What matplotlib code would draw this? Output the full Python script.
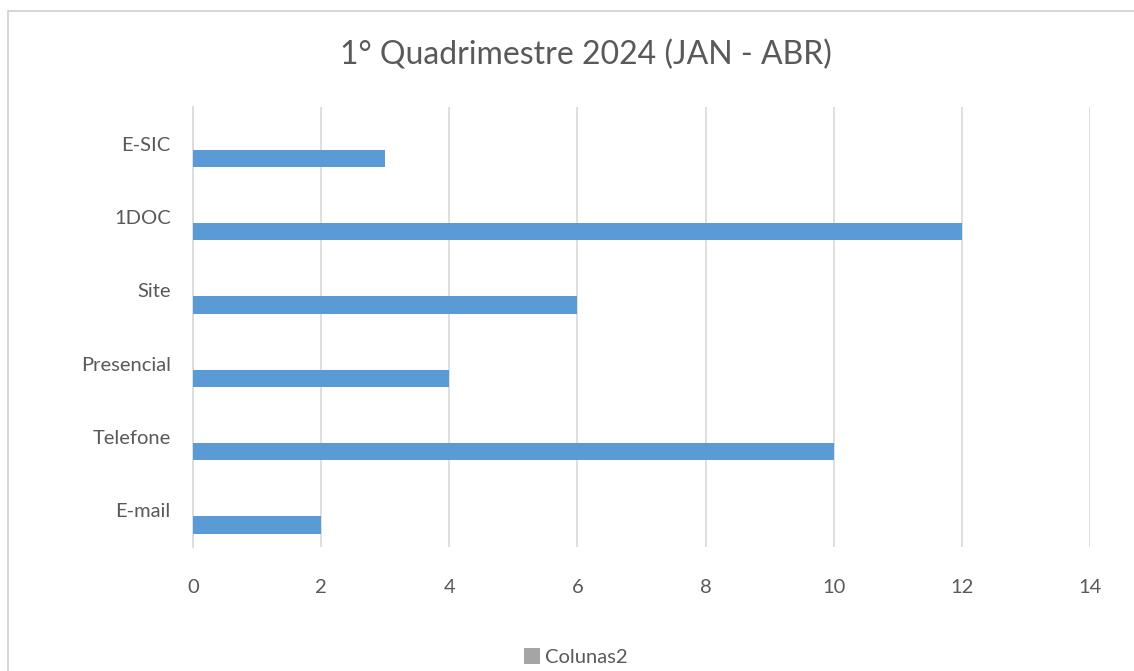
import matplotlib
matplotlib.use("Agg")
import matplotlib.pyplot as plt
from matplotlib.patches import Rectangle, Patch
import numpy as np

categories = ["E-mail", "Telefone", "Presencial", "Site", "1DOC", "E-SIC"]
values = [2, 10, 4, 6, 12, 3]
colunas2 = [0, 0, 0, 0, 0, 0]
xticks = [0, 2, 4, 6, 8, 10, 12, 14]

plt.rcParams['font.family'] = ['Lato', 'DejaVu Sans']
text_color = '#595959'
grid_color = '#d9d9d9'
blue = '#5b9bd5'
gray = '#a5a5a5'

fig = plt.figure(figsize=(11.34, 6.71), dpi=100)
W, H = 1134, 671
# chart border
fig.patches.append(Rectangle((8 / W, -0.1), 1.2, 1 - 11 / H + 0.1, transform=fig.transFigure,
                             fill=False, edgecolor='#d0d0d0', linewidth=1.2))

ax = fig.add_axes([193 / W, 1 - 547 / H, (1090 - 193) / W, (547 - 107) / H])
y = np.arange(len(categories))
ax.barh(y - 0.2, values, height=0.24, color=blue, zorder=3)
ax.barh(y + 0.04, colunas2, height=0.24, color=gray, zorder=3)

ax.set_xlim(0, 14)
ax.set_ylim(-0.5, len(categories) - 0.5)
ax.set_xticks(xticks)
ax.set_xticklabels([str(t) for t in xticks])
ax.set_yticks(y)
ax.set_yticklabels(categories)
ax.xaxis.grid(True, color=grid_color, linewidth=1.2, zorder=0)
ax.yaxis.grid(False)
for s in ['top', 'right', 'bottom']:
    ax.spines[s].set_visible(False)
ax.spines['left'].set_color(grid_color)
ax.spines['left'].set_linewidth(1.2)
ax.tick_params(axis='x', length=0, pad=23, labelsize=14.5, labelcolor=text_color)
ax.tick_params(axis='y', length=0, pad=16, labelsize=14.5, labelcolor=text_color)

fig.text(586 / W, 1 - 55 / H, "1° Quadrimestre 2024 (JAN - ABR)", ha='center', va='center',
         fontsize=23, color=text_color)

handles = [Patch(facecolor=gray, edgecolor='none', label='Colunas2')]
fig.legend(handles=handles, loc='center', bbox_to_anchor=(576 / W, 1 - 657 / H), frameon=False,
           fontsize=14.5, labelcolor=text_color, handlelength=0.8, handleheight=0.8,
           handletextpad=0.25, borderpad=0)

fig.savefig("out.png", dpi=100, facecolor='white')
